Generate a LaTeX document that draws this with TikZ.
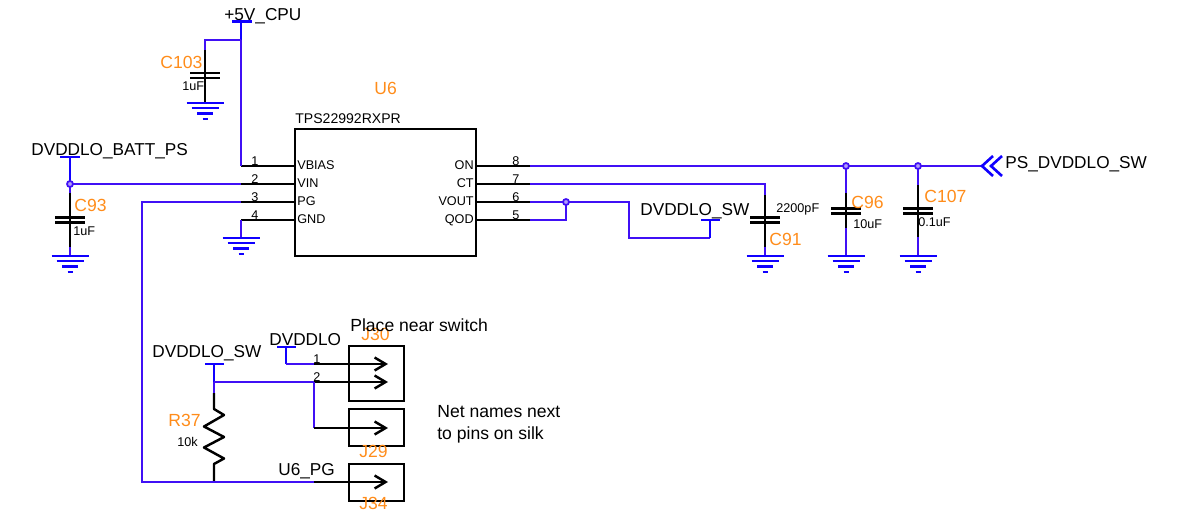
\documentclass[tikz,border=0pt]{standalone}
\usepackage{fontspec}
\setmainfont{Liberation Sans}
\usetikzlibrary{arrows.meta}
\definecolor{netblue}{RGB}{64,16,245}
\definecolor{portblue}{RGB}{16,0,255}
\definecolor{refdes}{RGB}{255,140,26}
\tikzset{
    netwire/.style={draw=netblue, line width=1.4pt},
    pinwire/.style={draw=black, line width=1.4pt},
    portbar/.style={draw=portblue, line width=1.5pt},
    jackwire/.style={pinwire, -{Straight Barb[length=2.2mm, width=2.6mm, line width=1.4pt]}},
    junction/.style={circle, draw=netblue, fill=netblue!40, line width=1pt, minimum size=3.4pt, inner sep=0pt},
    netname/.style={anchor=base west, inner sep=0pt, font=\fontsize{9.8}{11}\selectfont},
    notetext/.style={netname, font=\fontsize{10}{12}\selectfont},
    refname/.style={anchor=base west, inner sep=0pt, text=refdes, font=\fontsize{10}{12}\selectfont},
    smalltext/.style={anchor=base west, inner sep=0pt, font=\fontsize{7.2}{9}\selectfont},
    pinname/.style={smalltext},
    pinnameR/.style={smalltext, anchor=base east},
    pinnum/.style={smalltext, anchor=base},
    jackbox/.style={draw=black, line width=1.4pt, minimum width=1.1cm, inner sep=0pt, outer sep=0pt},
    gndsym/.pic={
        \draw[portbar] (-18.5,0) -- (18.5,0);
        \draw[portbar] (-13.5,5) -- (13.5,5);
        \draw[portbar] (-8,10.5) -- (8,10.5);
        \draw[portbar] (-2.5,16) -- (2.5,16);
    },
    capsym/.pic={
        \draw[pinwire] (-15,-2.6) -- (15,-2.6);
        \draw[pinwire] (-15,2.6) -- (15,2.6);
    },
}
\begin{document}
\begin{tikzpicture}[x=0.02cm, y=-0.02cm]
    \useasboundingbox (0,0) rectangle (1181,511);

    % Switch U6
    \node[draw=black, line width=1.4pt, minimum width=3.62cm, minimum height=2.54cm, inner sep=0pt, outer sep=0pt] (u6) at (385.5,192.5) {};
    \node[refname] (u6ref) at (374,94) {U6};
    \node[smalltext, font=\fontsize{8}{10}\selectfont] (u6part) at (295,123) {TPS22992RXPR};
    \node[pinname] (vbias) at (297,169) {VBIAS};
    \node[pinname] (vin) at (297,187.5) {VIN};
    \node[pinname] (pg) at (297,205.5) {PG};
    \node[pinname] (gnd) at (297,223) {GND};
    \node[pinnameR] (on) at (474,169) {ON};
    \node[pinnameR] (ct) at (474,187) {CT};
    \node[pinnameR] (vout) at (474,205.5) {VOUT};
    \node[pinnameR] (qod) at (474,223) {QOD};
    \node[pinnum] (n1) at (255,165) {1};
    \node[pinnum] (n2) at (255,183) {2};
    \node[pinnum] (n3) at (255,201) {3};
    \node[pinnum] (n4) at (255,219) {4};
    \node[pinnum] (n8) at (516,165) {8};
    \node[pinnum] (n7) at (516,183) {7};
    \node[pinnum] (n6) at (516,201) {6};
    \node[pinnum] (n5) at (516,219) {5};

    % Pin stubs
    \coordinate (p1) at (295,166);
    \coordinate (p2) at (295,184);
    \coordinate (p3) at (295,202);
    \coordinate (p4) at (295,220);
    \coordinate (p8) at (476,166);
    \coordinate (p7) at (476,184);
    \coordinate (p6) at (476,202);
    \coordinate (p5) at (476,220);
    \coordinate (s1) at (241,166);
    \coordinate (s2) at (241,184);
    \coordinate (s3) at (241,202);
    \coordinate (s4) at (241,220);
    \coordinate (s8) at (530,166);
    \coordinate (s7) at (530,184);
    \coordinate (s6) at (530,202);
    \coordinate (s5) at (530,220);
    \draw[pinwire] (s1) -- (p1);
    \draw[pinwire] (s2) -- (p2);
    \draw[pinwire] (s3) -- (p3);
    \draw[pinwire] (s4) -- (p4);
    \draw[pinwire] (s8) -- (p8);
    \draw[pinwire] (s7) -- (p7);
    \draw[pinwire] (s6) -- (p6);
    \draw[pinwire] (s5) -- (p5);

    % +5V_CPU and C103
    \node[netname] (cpu) at (224,20) {+5V\_CPU};
    \coordinate (cpuL) at (232,21.5);
    \coordinate (cpuR) at (252,21.5);
    \coordinate (cpuT) at (241,21.5);
    \coordinate (cpuJ) at (241,40);
    \coordinate (c103T) at (205,50);
    \coordinate (c103C) at (205,75.5);
    \coordinate (c103B) at (205,103);
    \draw[portbar] (cpuL) -- (cpuR);
    \draw[portbar] (cpuT) -- (cpuJ);
    \draw[netwire] (cpuJ) -- (s1);
    \draw[netwire] (cpuJ) -| (c103T);
    \draw[pinwire] (c103T) -- (c103B);
    \pic at (c103C) {capsym};
    \pic at (c103B) {gndsym};
    \node[refname] (c103ref) at (160,68) {C103};
    \node[smalltext] (c103val) at (182,90) {1uF};

    % DVDDLO_BATT_PS and C93
    \node[netname] (batt) at (31,155) {DVDDLO\_BATT\_PS};
    \coordinate (battL) at (60,157);
    \coordinate (battR) at (80,157);
    \coordinate (battT) at (70,157);
    \coordinate (battJ) at (70,184);
    \coordinate (c93T) at (70,193);
    \coordinate (c93C) at (70,220);
    \coordinate (c93B) at (70,247);
    \coordinate (c93G) at (70,256);
    \draw[portbar] (battL) -- (battR);
    \draw[portbar] (battT) -- (battJ);
    \draw[netwire] (battJ) -- (s2);
    \draw[netwire] (battJ) -- (c93T);
    \draw[pinwire] (c93T) -- (c93B);
    \draw[netwire] (c93B) -- (c93G);
    \pic at (c93C) {capsym};
    \pic at (c93G) {gndsym};
    \node[junction] (battD) at (battJ) {};
    \node[refname] (c93ref) at (74,211.5) {C93};
    \node[smalltext] (c93val) at (73,235) {1uF};

    % GND pin
    \coordinate (u6G) at (241,238);
    \draw[netwire] (s4) -- (u6G);
    \pic at (u6G) {gndsym};

    % ON net, C96, C107
    \coordinate (onE) at (982,166);
    \coordinate (c96J) at (846,166);
    \coordinate (c96T) at (846,193);
    \coordinate (c96C) at (846,211);
    \coordinate (c96B) at (846,228);
    \coordinate (c96G) at (846,256);
    \coordinate (c107J) at (918,166);
    \coordinate (c107T) at (918,185);
    \coordinate (c107C) at (918,211);
    \coordinate (c107B) at (918,237);
    \coordinate (c107G) at (918,256);
    \draw[netwire] (s8) -- (onE);
    \draw[netwire] (c96J) -- (c96T);
    \draw[pinwire] (c96T) -- (c96B);
    \draw[netwire] (c96B) -- (c96G);
    \draw[netwire] (c107J) -- (c107T);
    \draw[pinwire] (c107T) -- (c107B);
    \draw[netwire] (c107B) -- (c107G);
    \pic at (c96C) {capsym};
    \pic at (c96G) {gndsym};
    \pic at (c107C) {capsym};
    \pic at (c107G) {gndsym};
    \node[junction] (c96D) at (c96J) {};
    \node[junction] (c107D) at (c107J) {};
    \node[refname] (c96ref) at (851,208) {C96};
    \node[smalltext] (c96val) at (853,228) {10uF};
    \node[refname] (c107ref) at (924,202) {C107};
    \node[smalltext] (c107val) at (918,226) {0.1uF};

    % Off page port
    \coordinate (tipA) at (982,166);
    \coordinate (tipB) at (991,166);
    \coordinate (armAu) at (993,156);
    \coordinate (armAd) at (993,176);
    \coordinate (armBu) at (1002,156);
    \coordinate (armBd) at (1002,176);
    \draw[portbar] (armAu) -- (tipA) -- (armAd);
    \draw[portbar] (armBu) -- (tipB) -- (armBd);
    \node[netname] (psname) at (1005,168) {PS\_DVDDLO\_SW};

    % CT net and C91
    \coordinate (ctC) at (765,184);
    \coordinate (c91T) at (765,195);
    \coordinate (c91C) at (765,220);
    \coordinate (c91B) at (765,247);
    \coordinate (c91G) at (765,256);
    \draw[netwire] (s7) -- (ctC) -- (c91T);
    \draw[pinwire] (c91T) -- (c91B);
    \draw[netwire] (c91B) -- (c91G);
    \pic at (c91C) {capsym};
    \pic at (c91G) {gndsym};
    \node[smalltext] (c91val) at (776,212) {2200pF};
    \node[refname] (c91ref) at (769,245.5) {C91};

    % VOUT and QOD net
    \coordinate (voutJ) at (566,202);
    \coordinate (voutC) at (629,202);
    \coordinate (voutD) at (629,238);
    \coordinate (swB) at (710,238);
    \coordinate (swT) at (710,220);
    \coordinate (swL) at (701,220);
    \coordinate (swR) at (720,220);
    \draw[netwire] (s6) -- (voutC) -- (voutD) -- (swB);
    \draw[netwire] (s5) -| (voutJ);
    \draw[portbar] (swB) -- (swT);
    \draw[portbar] (swL) -- (swR);
    \node[junction] (voutDot) at (voutJ) {};
    \node[netname] (swname) at (640,215) {DVDDLO\_SW};

    % Jacks
    \node[jackbox, minimum height=1.1cm] (j30) at (376.5,373.5) {};
    \node[jackbox, minimum height=0.74cm] (j29) at (376.5,427.5) {};
    \node[jackbox, minimum height=0.74cm] (j34) at (376.5,482.5) {};
    \node[refname] (j30ref) at (361,340) {J30};
    \node[refname] (j29ref) at (359,457) {J29};
    \node[refname] (j34ref) at (359,509.5) {J34};
    \node[notetext] (note1) at (350,331) {Place near switch};
    \node[notetext] (note2) at (437,417) {Net names next};
    \node[notetext] (note3) at (437,439) {to pins on silk};
    \node[pinnum] (jn1) at (317,363) {1};
    \node[pinnum] (jn2) at (317,381) {2};

    % DVDDLO to J30
    \node[netname] (dvddlo) at (269,345) {DVDDLO};
    \coordinate (loL) at (277,347);
    \coordinate (loR) at (296,347);
    \coordinate (loT) at (286,347);
    \coordinate (loB) at (286,364);
    \coordinate (lo1) at (314,364);
    \coordinate (ar1) at (388,364);
    \draw[portbar] (loL) -- (loR);
    \draw[portbar] (loT) -- (loB);
    \draw[netwire] (loB) -- (lo1);
    \draw[jackwire] (lo1) -- (ar1);

    % DVDDLO_SW, R37 and J30, J29
    \node[netname] (swname2) at (152,357) {DVDDLO\_SW};
    \coordinate (swL2) at (205,364);
    \coordinate (swR2) at (224,364);
    \coordinate (swT2) at (214,364);
    \coordinate (swJ) at (214,382);
    \coordinate (sw2) at (314,382);
    \coordinate (ar2) at (388,382);
    \coordinate (r37T) at (214,393);
    \coordinate (r37a) at (214,409);
    \coordinate (r37z) at (214,464);
    \coordinate (pgJ) at (214,482);
    \coordinate (swD) at (314,428);
    \coordinate (ar3) at (388,428);
    \draw[portbar] (swL2) -- (swR2);
    \draw[portbar] (swT2) -- (swJ);
    \draw[netwire] (swJ) -- (sw2);
    \draw[netwire] (swJ) -- (r37T);
    \draw[jackwire] (sw2) -- (ar2);
    \draw[netwire] (sw2) -- (swD);
    \draw[jackwire] (swD) -- (ar3);
    \draw[pinwire, line join=round] (r37T) -- (r37a) -- ++(10,6) -- ++(-20,11.5) -- ++(20,10.5) -- ++(-20,10.5) -- ++(20,11) -- (r37z) -- (pgJ);
    \node[refname] (r37ref) at (168,426) {R37};
    \node[smalltext] (r37val) at (177,446) {10k};

    % PG net and J34
    \coordinate (pgC) at (142,202);
    \coordinate (pgE) at (142,482);
    \coordinate (pgW) at (314,482);
    \coordinate (ar4) at (388,482);
    \draw[netwire] (s3) -- (pgC) -- (pgE) -- (pgW);
    \draw[jackwire] (pgW) -- (ar4);
    \node[netname] (u6pg) at (278,475) {U6\_PG};

\end{tikzpicture}
\end{document}
